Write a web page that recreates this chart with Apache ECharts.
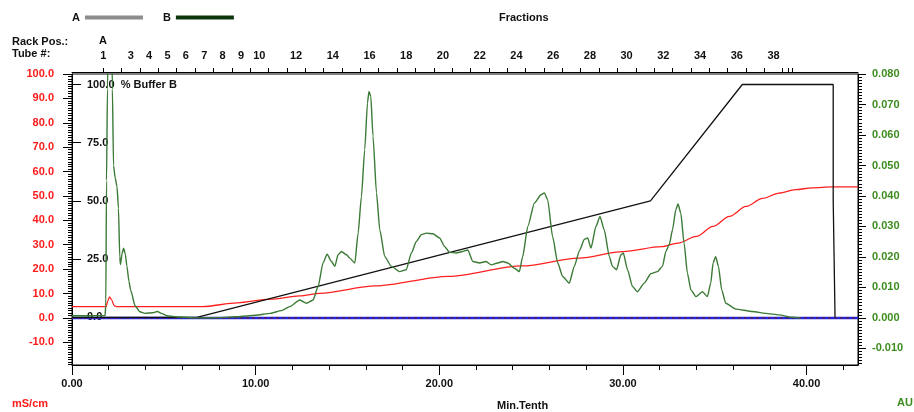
<!DOCTYPE html>
<html lang="en">
<head>
<meta charset="UTF-8">
<title>Chromatogram</title>
<script src="https://cdn.jsdelivr.net/npm/echarts@6/dist/echarts.min.js"></script>
<style>
  html, body { margin: 0; padding: 0; background: #fff; }
  #main { width: 914px; height: 412px; }
</style>
</head>
<body>
<div id="main"></div>
<script>
// UV absorbance trace (AU, right axis)
var uvTime = [0, 1.0, 1.8, 1.84, 1.88, 1.93, 2.0, 2.15, 2.2, 2.26, 2.35, 2.45, 2.53, 2.6, 2.64, 2.72, 2.81, 2.9, 2.99, 3.1, 3.2, 3.44, 3.7, 3.98, 4.4, 4.65, 4.9, 5.16, 5.8, 6.8,
  8.0, 9.0, 10.0, 10.8, 11.4, 11.86, 12.4, 12.77, 13.13, 13.4, 13.67, 13.89, 14.13, 14.31, 14.49, 14.67, 14.95, 15.13, 15.4, 15.58, 15.76, 15.94, 16.09, 16.17, 16.27, 16.39, 16.58, 16.76,
  17.03, 17.39, 17.84, 18.2, 18.48, 18.75, 19.02, 19.29, 19.65, 20.02, 20.29, 20.56, 20.92, 21.28, 21.55, 21.83, 22.19, 22.55, 22.83, 23.18, 23.46, 23.73, 24.09, 24.36, 24.54, 24.82,
  25.18, 25.54, 25.72, 25.9, 26.17, 26.45, 26.72, 27.08, 27.35, 27.63, 27.9, 28.08, 28.26, 28.53, 28.75, 28.98, 29.26, 29.43, 29.65, 29.89, 30.02, 30.25, 30.52, 30.79, 31.16, 31.52,
  31.88, 32.15, 32.34, 32.52, 32.7, 32.88, 33.0, 33.15, 33.33, 33.51, 33.7, 33.97, 34.33, 34.6, 34.78, 34.91, 35.05, 35.2, 35.38, 35.6, 36.14, 37.05, 37.77, 38.5, 39.22, 39.67];
var uvAU = [0.0007, 0.0007, 0.0008, 0.004, 0.045, 0.075, 0.1, 0.1, 0.075, 0.05, 0.046, 0.043, 0.036, 0.02, 0.0175, 0.021, 0.0229, 0.021, 0.017, 0.012, 0.009, 0.0039, 0.002, 0.0015, 0.0017, 0.0021, 0.0014, 0.0007, 0.0003, 0,
  0.0001, 0.0004, 0.0009, 0.0015, 0.0024, 0.0037, 0.0059, 0.0048, 0.0059, 0.0103, 0.018, 0.0209, 0.0185, 0.0169, 0.0207, 0.0218, 0.0207, 0.0196, 0.018, 0.0278, 0.0398, 0.0552, 0.0705, 0.0743, 0.0727, 0.0596, 0.041, 0.0289,
  0.0201, 0.0169, 0.0152, 0.0158, 0.0213, 0.0251, 0.0273, 0.0278, 0.0276, 0.0262, 0.0234, 0.0215, 0.0213, 0.0218, 0.0223, 0.0185, 0.018, 0.0185, 0.0174, 0.018, 0.0185, 0.018, 0.0163, 0.0152, 0.0201, 0.03,
  0.0377, 0.0404, 0.041, 0.0388, 0.0267, 0.018, 0.0136, 0.0114, 0.0169, 0.022, 0.0258, 0.0262, 0.0229, 0.03, 0.0333, 0.0289, 0.0201, 0.0169, 0.0158, 0.0207, 0.0213, 0.0158, 0.0103, 0.0086, 0.0114, 0.0145,
  0.0152, 0.0169, 0.0218, 0.024, 0.0289, 0.0355, 0.0374, 0.0344, 0.0245, 0.0147, 0.0092, 0.007, 0.0086, 0.007, 0.0114, 0.018, 0.0201, 0.0169, 0.0092, 0.0048, 0.0029, 0.0021, 0.0015, 0.001, 0.0002, 0];

// conductivity (mS/cm, left axis)
var condTime = [0, 1.85, 1.95, 2.05, 2.15, 2.3, 2.45, 7.1, 9.0, 10.8, 12.4, 13.5, 16.5, 20.5, 24.5, 27.6, 30.0, 32.1, 33.0, 34.0, 34.9, 35.8, 36.7, 37.6, 38.5, 39.4, 40.3, 41.4, 42.8];
var condMS = [4.6, 4.6, 7.0, 8.6, 7.5, 5.0, 4.6, 4.6, 6.2, 7.7, 9.0, 10.1, 13.1, 17.0, 21.3, 24.5, 27.2, 29.2, 30.7, 33.4, 37.5, 41.6, 45.7, 49.0, 51.2, 52.6, 53.3, 53.7, 53.7];

// gradient (% Buffer B, inner axis)
var bufTime = [0, 6.8, 31.5, 36.5, 41.45, 41.45, 41.55, 41.55];
var bufPct = [0, 0, 50, 100, 100, 50, 50, 0];

// flat traces along zero
var baseTime = [0, 42.8];
var baseAU = [0, 0];

// axis labels
var timeTicks = [0, 10, 20, 30, 40];
var leftTicks = [-10, 0, 10, 20, 30, 40, 50, 60, 70, 80, 90, 100];
var rightTicks = [-0.01, 0, 0.01, 0.02, 0.03, 0.04, 0.05, 0.06, 0.07, 0.08];
var bufferTicks = [0, 25, 50, 75, 100];
var tubeNums = [1, 3, 4, 5, 6, 7, 8, 9, 10, 12, 14, 16, 18, 20, 22, 24, 26, 28, 30, 32, 34, 36, 38];
var tubePos = [1.7, 3.2, 4.2, 5.2, 6.2, 7.2, 8.2, 9.2, 10.2, 12.2, 14.2, 16.2, 18.2, 20.2, 22.2, 24.2, 26.2, 28.2, 30.2, 32.2, 34.2, 36.2, 38.2];

function zip(a, b) {
  return a.map(function (v, i) { return [v, b[i]]; });
}
// minor tick positions, skipping the labelled ones
function minorTicks(from, to, n, major) {
  var out = [];
  for (var k = 0; k <= n; k++) {
    var v = from + (to - from) * k / n;
    var r = v / major;
    if (Math.abs(r - Math.round(r)) > 1e-6) out.push(+v.toFixed(5));
  }
  return out;
}
var fractionTicks = [];
for (var f = 1.7; f < 38.8; f += 1) fractionTicks.push(+f.toFixed(1));
fractionTicks.push(39.0, 39.2);

var tubeLabel = {};
tubePos.forEach(function (p, i) { tubeLabel[p] = String(tubeNums[i]); });

var FONT = 'Liberation Sans';
var XMAX = 42.8;

var chart = echarts.init(document.getElementById('main'));

function txt(text, left, top, color) {
  return { text: text, left: left, top: top, padding: 0,
    textStyle: { fontSize: 11, fontWeight: 'bold', color: color || '#111', fontFamily: FONT } };
}

var labelFont = { fontSize: 11, fontWeight: 'bold', fontFamily: FONT };
var tickLine = { color: '#000' };

var option = {
  animation: false,
  backgroundColor: '#fff',
  title: [
    txt('Fractions', 499, 12),
    txt('Rack Pos.:', 12, 36),
    txt('Tube #:', 12, 48),
    txt('A', 99, 35),
    txt('mS/cm', 12, 398, '#ff1a1a'),
    txt('Min.Tenth', 497, 400),
    txt('AU', 897, 397, '#3c8c1e')
  ],
  legend: {
    left: 67, top: 7,
    align: 'right',
    icon: 'rect',
    itemWidth: 58, itemHeight: 4, itemGap: 20,
    selectedMode: false,
    textStyle: { fontSize: 11, fontWeight: 'bold', color: '#111', fontFamily: FONT },
    data: [
      { name: 'A', itemStyle: { color: '#8c8c8c' } },
      { name: 'B', itemStyle: { color: '#0e360e' } }
    ]
  },
  grid: {
    left: 72, right: 56, top: 74, bottom: 47,
    show: true, borderColor: '#000', borderWidth: 1
  },
  xAxis: [
    {
      type: 'value', position: 'bottom', min: 0, max: XMAX,
      axisLine: { onZero: false, lineStyle: tickLine },
      axisTick: { length: 10, customValues: timeTicks, lineStyle: tickLine },
      axisLabel: Object.assign({ customValues: timeTicks, margin: 13, color: '#111',
        formatter: function (v) { return v.toFixed(2); } }, labelFont),
      splitLine: { show: false }
    },
    {
      type: 'value', position: 'bottom', min: 0, max: XMAX,
      axisLine: { show: false, onZero: false },
      axisTick: { length: 5, customValues: minorTicks(0, 42, 21, 10), lineStyle: tickLine },
      axisLabel: { show: false },
      splitLine: { show: false }
    },
    {
      type: 'value', position: 'top', offset: 2, min: 0, max: XMAX,
      axisLine: { onZero: false, lineStyle: tickLine },
      axisTick: { length: 4, customValues: fractionTicks, lineStyle: tickLine },
      axisLabel: Object.assign({ customValues: tubePos, margin: 11, color: '#111',
        formatter: function (v) { return tubeLabel[v] || ''; } }, labelFont),
      splitLine: { show: false }
    }
  ],
  yAxis: [
    {
      type: 'value', position: 'left', min: -19.3, max: 100,
      axisLine: { show: true, onZero: false, lineStyle: tickLine },
      axisTick: { length: 9, customValues: leftTicks, lineStyle: tickLine },
      axisLabel: Object.assign({ customValues: leftTicks, margin: 18, color: '#ff1a1a',
        formatter: function (v) { return v.toFixed(1); } }, labelFont),
      splitLine: { show: false }
    },
    {
      type: 'value', position: 'left', min: -19.3, max: 100,
      axisLine: { show: false, onZero: false },
      axisTick: { show: true, length: 4, customValues: minorTicks(-19, 99, 118, 10), lineStyle: tickLine },
      axisLabel: { show: true, customValues: [], formatter: function () { return ''; } },
      splitLine: { show: false }
    },
    {
      type: 'value', position: 'right', min: -0.01544, max: 0.08,
      axisLine: { show: true, onZero: false, lineStyle: tickLine },
      axisTick: { length: 8, customValues: rightTicks, lineStyle: tickLine },
      axisLabel: Object.assign({ customValues: rightTicks, margin: 14, color: '#3c8c1e',
        formatter: function (v) { return v.toFixed(3); } }, labelFont),
      splitLine: { show: false }
    },
    {
      type: 'value', position: 'right', min: -0.01544, max: 0.08,
      axisLine: { show: false, onZero: false },
      axisTick: { show: true, length: 4, customValues: minorTicks(-0.015, 0.079, 94, 0.01), lineStyle: tickLine },
      axisLabel: { show: true, customValues: [], formatter: function () { return ''; } },
      splitLine: { show: false }
    },
    {
      type: 'value', position: 'left', min: -20.5, max: 104.5,
      axisLine: { show: false, onZero: false },
      axisTick: { inside: true, length: 9, customValues: bufferTicks, lineStyle: tickLine },
      axisLabel: Object.assign({ inside: true, customValues: bufferTicks, margin: 15, color: '#111',
        formatter: function (v) { return v === 100 ? '100.0  % Buffer B' : v.toFixed(1); } }, labelFont),
      splitLine: { show: false }
    }
  ],
  series: [
    {
      name: 'base', type: 'line', xAxisIndex: 0, yAxisIndex: 2, symbol: 'none',
      data: zip(baseTime, baseAU),
      lineStyle: { color: '#2626d9', width: 2.5 }, z: 2
    },
    {
      name: 'A', type: 'line', xAxisIndex: 0, yAxisIndex: 2, symbol: 'none',
      data: zip(baseTime, baseAU),
      lineStyle: { color: '#6b1530', width: 1, type: [3, 3] }, z: 3
    },
    {
      name: 'mS/cm', type: 'line', xAxisIndex: 0, yAxisIndex: 0, symbol: 'none',
      data: zip(condTime, condMS), smooth: 0.3, smoothMonotone: 'x',
      lineStyle: { color: '#ff1f1f', width: 1.3 }, z: 4
    },
    {
      name: '% Buffer B', type: 'line', xAxisIndex: 0, yAxisIndex: 4, symbol: 'none',
      data: zip(bufTime, bufPct),
      lineStyle: { color: '#111', width: 1.3 }, z: 5
    },
    {
      name: 'B', type: 'line', xAxisIndex: 0, yAxisIndex: 2, symbol: 'none',
      data: zip(uvTime, uvAU), smooth: 0.2, smoothMonotone: 'x',
      lineStyle: { color: '#3b7a35', width: 1.4 }, z: 6
    }
  ]
};

chart.setOption(option);
</script>
</body>
</html>
